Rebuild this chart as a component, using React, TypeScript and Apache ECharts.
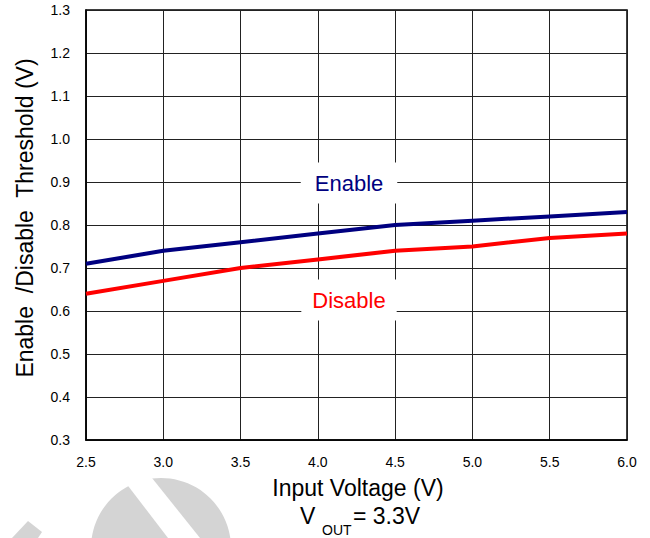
import React, { useEffect, useRef } from "react";
import * as echarts from "echarts";

const xValues = [2.5, 3.0, 3.5, 4.0, 4.5, 5.0, 5.5, 6.0];
const enableValues = [0.71, 0.74, 0.76, 0.78, 0.8, 0.81, 0.82, 0.83];
const disableValues = [0.64, 0.67, 0.7, 0.72, 0.74, 0.75, 0.77, 0.78];

const FONT = "'Liberation Sans', Arial, sans-serif";

export default function App() {
  const ref = useRef<HTMLDivElement>(null);
  useEffect(() => {
    if (!ref.current) return;
    const chart = echarts.init(ref.current, undefined, { renderer: "svg" });
    chart.setOption({
      animation: false,
      backgroundColor: "#fff",
      grid: {
        left: 86,
        right: 23,
        top: 10,
        bottom: 98,
        show: true,
        borderColor: "#000",
        borderWidth: 1.5,
      },
      xAxis: {
        type: "value",
        min: 2.5,
        max: 6.0,
        interval: 0.5,
        axisLine: { show: true, lineStyle: { color: "#000", width: 1.5 } },
        axisTick: { show: false },
        splitLine: { show: true, lineStyle: { color: "#222", width: 1 } },
        axisLabel: {
          color: "#000",
          fontSize: 14,
          fontFamily: FONT,
          margin: 15,
          formatter: (v: number) => v.toFixed(1),
        },
      },
      yAxis: {
        type: "value",
        min: 0.3,
        max: 1.3,
        interval: 0.1,
        axisLine: { show: true, lineStyle: { color: "#000", width: 1.5 } },
        axisTick: { show: false },
        splitLine: { show: true, lineStyle: { color: "#222", width: 1 } },
        axisLabel: {
          color: "#000",
          fontSize: 14,
          fontFamily: FONT,
          margin: 16,
          formatter: (v: number) => v.toFixed(1),
        },
      },
      series: [
        {
          name: "Enable",
          type: "line",
          data: xValues.map((x, i) => [x, enableValues[i]]),
          showSymbol: false,
          lineStyle: { color: "#000080", width: 4 },
          itemStyle: { color: "#000080" },
          z: 3,
        },
        {
          name: "Disable",
          type: "line",
          data: xValues.map((x, i) => [x, disableValues[i]]),
          showSymbol: false,
          lineStyle: { color: "#ff0000", width: 4 },
          itemStyle: { color: "#ff0000" },
          z: 3,
        },
      ],
      graphic: [
        // watermark (approximate)
        {
          type: "circle",
          shape: { cx: 161, cy: 548, r: 70 },
          style: { fill: "#d4d4d4" },
          z: -10,
          silent: true,
        },
        {
          type: "polygon",
          shape: {
            points: [
              [122, 478],
              [152, 478],
              [200, 538],
              [168, 538],
            ],
          },
          style: { fill: "#fff" },
          z: -9,
          silent: true,
        },
        {
          type: "polygon",
          shape: {
            points: [
              [12, 538],
              [28, 521],
              [42, 532],
              [38, 538],
            ],
          },
          style: { fill: "#d4d4d4" },
          z: -10,
          silent: true,
        },
        {
          type: "text",
          x: 349,
          y: 183,
          z: 10,
          style: {
            text: "Enable",
            fill: "#000080",
            fontSize: 22,
            fontFamily: FONT,
            align: "center",
            verticalAlign: "middle",
            backgroundColor: "#fff",
            padding: [14, 14, 5, 14],
          },
        },
        {
          type: "text",
          x: 349,
          y: 300,
          z: 10,
          style: {
            text: "Disable",
            fill: "#ff0000",
            fontSize: 22,
            fontFamily: FONT,
            align: "center",
            verticalAlign: "middle",
            backgroundColor: "#fff",
            padding: [14, 11, 5, 11],
          },
        },
        {
          type: "text",
          x: 25,
          y: 218,
          rotation: Math.PI / 2,
          style: {
            text: "Enable  /Disable  Threshold (V)",
            fill: "#000",
            fontSize: 23,
            fontFamily: FONT,
            align: "center",
            verticalAlign: "middle",
          },
        },
        {
          type: "text",
          x: 358,
          y: 488,
          style: {
            text: "Input Voltage (V)",
            fill: "#000",
            fontSize: 23,
            fontFamily: FONT,
            align: "center",
            verticalAlign: "middle",
          },
        },
        {
          type: "text",
          x: 300,
          y: 516,
          style: {
            text: "V",
            fill: "#000",
            fontSize: 23,
            fontFamily: FONT,
            align: "left",
            verticalAlign: "middle",
          },
        },
        {
          type: "text",
          x: 322,
          y: 530,
          style: {
            text: "OUT",
            fill: "#000",
            fontSize: 14,
            fontFamily: FONT,
            align: "left",
            verticalAlign: "middle",
          },
        },
        {
          type: "text",
          x: 353,
          y: 516,
          style: {
            text: "= 3.3V",
            fill: "#000",
            fontSize: 23,
            fontFamily: FONT,
            align: "left",
            verticalAlign: "middle",
          },
        },
      ],
    });
    return () => chart.dispose();
  }, []);
  return <div ref={ref} style={{ width: 650, height: 538, position: "absolute", left: 0, top: 0 }} />;
}
